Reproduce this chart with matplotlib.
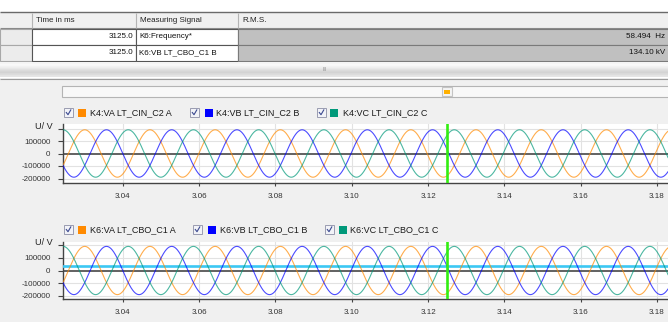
import numpy as np
import matplotlib.pyplot as plt
from matplotlib.patches import Rectangle

plt.rcParams['font.family'] = ['Liberation Sans', 'DejaVu Sans']

# table contents
header_labels = ["Time in ms", "Measuring Signal", "R.M.S."]
row_times = ["3125.0", "3125.0"]
row_signals = ["K6:Frequency*", "K6:VB LT_CBO_C1 B"]
row_rms = ["58.494  Hz", "134.10 kV"]

# waveform parameters
freq_hz = 58.494
phase_colors = ["#ff8a00", "#0000ff", "#00997a"]
phase_shift_deg = [0, -120, 120]
k4_amplitude = [189600, 189600, 189600]
k6_amplitude = [189600, 189600, 189600]
peak_time_a = 3.0300      # first positive peak of phase A (s)
k6_flat_level = 38000     # flat cyan trace in the K6 panel
cursor_time = 3.125

k4_labels = ["K4:VA LT_CIN_C2 A", "K4:VB LT_CIN_C2 B", "K4:VC LT_CIN_C2 C"]
k6_labels = ["K6:VA LT_CBO_C1 A", "K6:VB LT_CBO_C1 B", "K6:VC LT_CBO_C1 C"]

x_ticks = [3.04, 3.06, 3.08, 3.10, 3.12, 3.14, 3.16, 3.18]
y_ticks = [200000, 100000, 0, -100000, -200000]
y_ticklabels = ["", "100000", "0", "-100000", "-200000"]
t_range = (3.0243, 3.1829)

W, H = 668, 322
fig = plt.figure(figsize=(W / 100, H / 100), dpi=100, facecolor='white')

# background layer in pixel coordinates
bg = fig.add_axes([0, 0, 1, 1])
bg.axis('off')


def rect(x0, y0, x1, y1, fc, ec='none', lw=0.8, z=1):
    bg.add_patch(Rectangle((x0, y0), x1 - x0, y1 - y0, facecolor=fc,
                           edgecolor=ec, linewidth=lw, zorder=z))


def hline(y, x0, x1, c, lw=0.8):
    bg.plot([x0, x1], [y, y], color=c, lw=lw, zorder=3, solid_capstyle='butt')


def vline(x, y0, y1, c, lw=0.8):
    bg.plot([x, x], [y0, y1], color=c, lw=lw, zorder=3, solid_capstyle='butt')


# --- table ---
rect(0, 78, W, H, '#f0f0f0')
rect(0, 12, W, 28, '#f0f0f0')
hline(12.3, 0, W, '#6a6a6a', 1.0)
hline(28, 0, W, '#8a8a8a')
col_x = [32, 136, 238]
for cx in col_x:
    vline(cx, 12.5, 28, '#b4b4b4')
for i, lab in enumerate(header_labels):
    bg.text(col_x[i] + 4, 20.5, lab, fontsize=5.8, color='#222', va='center', ha='left')

row_y = [(28.5, 44.5), (44.5, 61)]
for r in range(2):
    y0, y1 = row_y[r]
    rect(0, y0, 32, y1, '#ececec', '#a8a8a8')
    rect(32, y0, 136, y1, 'white', '#555555')
    rect(136, y0, 238, y1, 'white', '#555555')
    rect(238, y0, W + 2, y1, '#c0c0c0', '#7a7a7a')
    yc = (y0 + y1) / 2
    bg.text(133, yc, row_times[r], fontsize=5.8, color='#111', va='center', ha='right')
    bg.text(139, yc, row_signals[r], fontsize=5.8, color='#111', va='center', ha='left')
    bg.text(665, yc, row_rms[r], fontsize=5.8, color='#111', va='center', ha='right')

# splitter bar
grad = np.array([0.96, 0.98, 0.95, 0.91, 0.86, 0.83, 0.86, 0.9])[:, None] * np.ones((1, 2))
bg.imshow(np.dstack([grad, grad, grad]), extent=[0, W, 77, 62.5], aspect='auto', zorder=2)
hline(78.5, 0, W, '#9a9a9a')
bg.text(325, 69, "III", fontsize=3.5, color='#888', ha='center', va='center', zorder=4)

# overview scroll box with position marker
rect(62, 86, W + 2, 97, '#f8f8f8', '#b4b4b4')
rect(442, 87, 452, 96, '#f4f4f4', '#c4c4c4', z=4)
rect(443.5, 90, 449.5, 93.5, '#ffb000', z=5)


def legend(y, boxes, squares, texts, labels):
    for bx, sx, tx, lab, col in zip(boxes, squares, texts, labels, phase_colors):
        rect(bx, y - 4.5, bx + 9, y + 4.5, '#f2f3f8', '#9a9cb0', 0.7, z=4)
        bg.plot([bx + 2.3, bx + 4, bx + 6.8], [y, y + 2.2, y - 2.6], color='#3c4a90',
                lw=0.8, zorder=5)
        rect(sx, y - 4, sx + 8, y + 4, col, z=4)
        bg.text(tx, y + 0.3, lab, fontsize=6.5, color='#1a1a1a', va='center', ha='left')


legend(112.5, [64, 190, 317], [78, 205, 330], [90.5, 216.5, 343], k4_labels)
legend(229.5, [64, 193, 325], [78, 208, 339], [90.5, 220, 350.5], k6_labels)

bg.text(53, 126, "U/ V", fontsize=6.5, color='#222', ha='right', va='center')
bg.text(53, 242, "U/ V", fontsize=6.5, color='#222', ha='right', va='center')

bg.set_xlim(0, W)
bg.set_ylim(H, 0)

t = np.linspace(t_range[0], t_range[1], 3000)


def panel(top, bottom, ylim, amps, flat=None):
    ax = fig.add_axes([63 / W, 1 - bottom / H, (W - 63) / W, (bottom - top) / H])
    ax.set_facecolor('white')
    for yv in y_ticks:
        if yv != 0:
            ax.axhline(yv, color='#e2e2e2', lw=0.8, zorder=1)
    for xv in x_ticks:
        ax.axvline(xv, color='#e2e2e2', lw=0.8, zorder=1)
    ax.axhline(0, color='#555555', lw=1.3, zorder=2)
    if flat is not None:
        ax.axhline(flat, color='#3cc8f4', lw=1.9, zorder=3)
    for amp, shift, col in zip(amps, phase_shift_deg, phase_colors):
        y = amp * np.cos(2 * np.pi * freq_hz * (t - peak_time_a) + np.deg2rad(shift))
        ax.plot(t, y, color=col, lw=0.8, alpha=0.7, zorder=4)
    ax.axvline(cursor_time, color='#33ee11', lw=1.9, zorder=5)
    ax.set_xlim(*t_range)
    ax.set_ylim(-ylim, ylim)
    ax.set_xticks(x_ticks)
    ax.set_xticklabels(["%.2f" % v for v in x_ticks])
    ax.set_yticks(y_ticks)
    ax.set_yticklabels(y_ticklabels)
    for s in ['top', 'right']:
        ax.spines[s].set_visible(False)
    for s in ['left', 'bottom']:
        ax.spines[s].set_color('#444444')
        ax.spines[s].set_linewidth(1.0)
    ax.tick_params(axis='y', length=3.6, width=0.8, pad=5.5, labelsize=5.8,
                   color='#444', labelcolor='#333')
    ax.tick_params(axis='x', length=2.5, width=0.8, pad=4.5, labelsize=5.8,
                   color='#444', labelcolor='#333')
    return ax


panel(124, 183, 236000, k4_amplitude)
panel(242, 299, 224000, k6_amplitude, flat=k6_flat_level)

fig.savefig('out.png', dpi=100)
